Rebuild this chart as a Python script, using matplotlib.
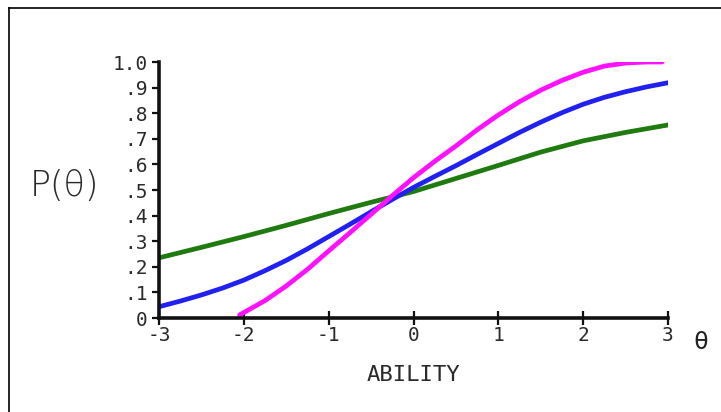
import matplotlib
matplotlib.use("Agg")
import matplotlib.pyplot as plt
from matplotlib.lines import Line2D

# ---- data ----
theta_green = [-3, -2.5, -2, -1.5, -1, -0.5, 0, 0.5, 1, 1.5, 2, 2.5, 3]
p_green = [0.235, 0.276, 0.318, 0.362, 0.408, 0.452, 0.494, 0.545, 0.596, 0.648, 0.692, 0.725, 0.754]

theta_blue = [-3, -2.75, -2.5, -2.25, -2, -1.75, -1.5, -1.25, -1, -0.75, -0.5, -0.25, 0,
              0.25, 0.5, 0.75, 1, 1.25, 1.5, 1.75, 2, 2.25, 2.5, 2.75, 3]
p_blue = [0.044, 0.066, 0.090, 0.117, 0.148, 0.185, 0.225, 0.270, 0.318, 0.366, 0.415, 0.463, 0.510,
          0.553, 0.595, 0.639, 0.682, 0.725, 0.765, 0.802, 0.835, 0.862, 0.884, 0.903, 0.919]

theta_magenta = [-2.05, -1.75, -1.5, -1.25, -1, -0.75, -0.5, -0.25, 0, 0.25, 0.5, 0.75, 1, 1.25, 1.5, 1.75, 2, 2.25, 2.5, 2.75, 2.93]
p_magenta = [0.012, 0.068, 0.125, 0.190, 0.262, 0.333, 0.405, 0.478, 0.548, 0.612, 0.672, 0.735, 0.793, 0.845, 0.890, 0.928, 0.960, 0.984, 0.996, 1.0, 1.0]

x_ticks = [-3, -2, -1, 0, 1, 2, 3]
x_ticklabels = ["-3", "-2", "-1", "0", "1", "2", "3"]
y_ticks = [0, 0.1, 0.2, 0.3, 0.4, 0.5, 0.6, 0.7, 0.8, 0.9, 1.0]
y_ticklabels = ["0", ".1", ".2", ".3", ".4", ".5", ".6", ".7", ".8", ".9", "1.0"]

mono = "DejaVu Sans Mono"

fig = plt.figure(figsize=(7.21, 4.12), dpi=100)
ax = fig.add_axes([159/721, 1-318/412, (668-159)/721, (318-62)/412])

ax.plot(theta_green, p_green, color="#1f7a10", lw=3.4, solid_capstyle="round")
ax.plot(theta_blue, p_blue, color="#2020f0", lw=3.4, solid_capstyle="round")
ax.plot(theta_magenta, p_magenta, color="#ff10ff", lw=3.4, solid_capstyle="round")

ax.set_xlim(-3, 3)
ax.set_ylim(0, 1.0)
for s in ["top", "right"]:
    ax.spines[s].set_visible(False)
for s in ["left", "bottom"]:
    ax.spines[s].set_linewidth(2.6)
    ax.spines[s].set_color("#111111")

ax.set_xticks(x_ticks)
ax.set_xticklabels(x_ticklabels, fontsize=14, family=mono, color="#2a2a2a")
ax.set_yticks(y_ticks)
ax.set_yticklabels(y_ticklabels, fontsize=14, family=mono, color="#2a2a2a")
ax.tick_params(axis="x", direction="inout", length=10, width=1.6, pad=1, colors="#111111", labelcolor="#2a2a2a")
ax.tick_params(axis="y", direction="out", length=5, width=1.6, pad=3, colors="#111111", labelcolor="#2a2a2a")

ax.set_xlabel("ABILITY", fontsize=16, family=mono, color="#2a2a2a", labelpad=14)

fig.text(64/721, 1-186/412, "P(θ)", fontsize=25, ha="center", va="center", color="#2a2a2a", fontweight="light")
fig.text(701/721, 1-342/412, "θ", fontsize=18, ha="center", va="center", color="#222222", family=mono)

# outer frame (top and left edges visible)
fig.add_artist(Line2D([9/721, 9/721], [0, 1-8/412], transform=fig.transFigure, color="black", lw=1.2))
fig.add_artist(Line2D([9/721, 1], [1-8/412, 1-8/412], transform=fig.transFigure, color="black", lw=1.2))

fig.savefig("out.png", dpi=100)
